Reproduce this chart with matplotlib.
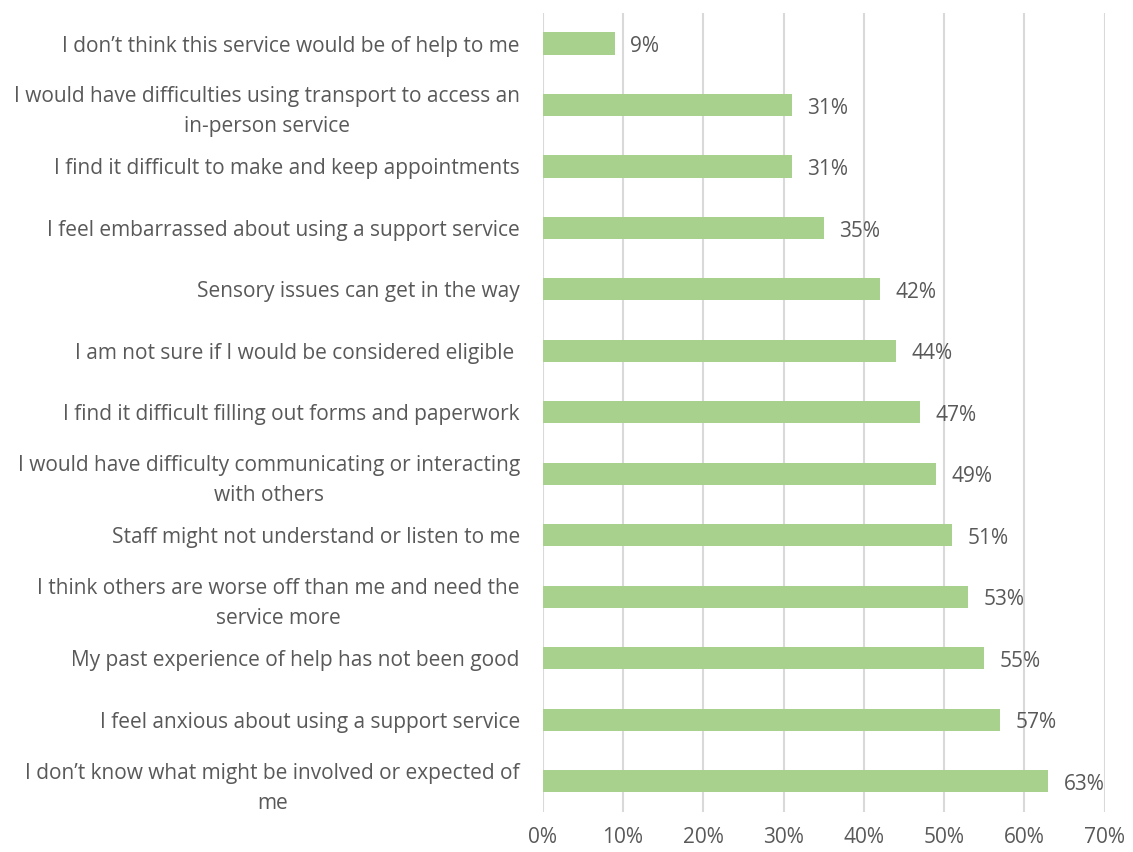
import matplotlib.pyplot as plt
from matplotlib.ticker import FuncFormatter

# survey responses, top to bottom
labels = [
    "I don\u2019t think this service would be of help to me",
    "I would have difficulties using transport to access an\nin-person service",
    "I find it difficult to make and keep appointments",
    "I feel embarrassed about using a support service",
    "Sensory issues can get in the way",
    "I am not sure if I would be considered eligible ",
    "I find it difficult filling out forms and paperwork",
    "I would have difficulty communicating or interacting\nwith others",
    "Staff might not understand or listen to me",
    "I think others are worse off than me and need the\nservice more",
    "My past experience of help has not been good",
    "I feel anxious about using a support service",
    "I don\u2019t know what might be involved or expected of\nme",
]
valores = [9, 31, 31, 35, 42, 44, 47, 49, 51, 53, 55, 57, 63]
ticks = [0, 10, 20, 30, 40, 50, 60, 70]

plt.rcParams['font.family'] = ['Open Sans', 'DejaVu Sans']
cinza = '#595959'
tam = 15

fig = plt.figure(figsize=(11.33, 8.52), dpi=100)
ax = fig.add_axes([0.479, 0.047, 0.496, 0.938])

pos = list(range(len(labels)))
ax.barh(pos, valores, height=0.36, color='#a9d18e', zorder=3)
for p, v in zip(pos, valores):
    ax.text(v + 1.9, p + 0.05, f"{v}%", va='center', ha='left', fontsize=tam, color=cinza)

ax.set_xlim(0, 70)
ax.set_ylim(len(labels) - 0.5, -0.5)
ax.set_xticks(ticks)
ax.xaxis.set_major_formatter(FuncFormatter(lambda x, _: f"{x:.0f}%"))
ax.set_yticks(pos)
ax.set_yticklabels(labels, multialignment='center', linespacing=1.55)
ax.tick_params(axis='both', length=0, labelsize=tam, colors=cinza)
ax.tick_params(axis='y', pad=16.5)
ax.tick_params(axis='x', pad=11)
ax.grid(axis='x', color='#d9d9d9', linewidth=1.5, zorder=0)
for s in ax.spines.values():
    s.set_visible(False)

fig.savefig('out.png', dpi=100)
